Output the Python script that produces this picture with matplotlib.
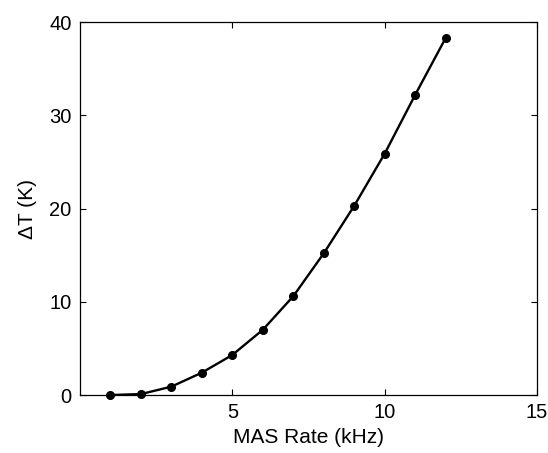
import matplotlib.pyplot as plt

plt.rcParams["font.family"] = ["Liberation Sans", "DejaVu Sans"]

mas_rate = [1, 2, 3, 4, 5, 6, 7, 8, 9, 10, 11, 12]
delta_t = [0.0, 0.1, 0.9, 2.4, 4.3, 7.0, 10.6, 15.2, 20.3, 25.9, 32.2, 38.3]

fig = plt.figure(figsize=(5.48, 4.53), dpi=100)
ax = fig.add_axes([0.146, 0.128, 0.834, 0.823])

ax.plot(mas_rate, delta_t, color="black", linewidth=1.7,
        marker="o", markersize=5.5, zorder=3, clip_on=False)

ax.set_xlim(0, 15)
ax.set_ylim(0, 40)
ax.set_xticks([5, 10, 15])
ax.set_yticks([0, 10, 20, 30, 40])
ax.tick_params(direction="in", top=True, right=True, length=4, width=0.8,
               labelsize=14.5, pad=6)
for spine in ax.spines.values():
    spine.set_linewidth(0.9)

ax.set_xlabel("MAS Rate (kHz)", fontsize=15, labelpad=4)
ax.set_ylabel("ΔT (K)", fontsize=15, labelpad=9)

fig.savefig("out.png", dpi=100)
